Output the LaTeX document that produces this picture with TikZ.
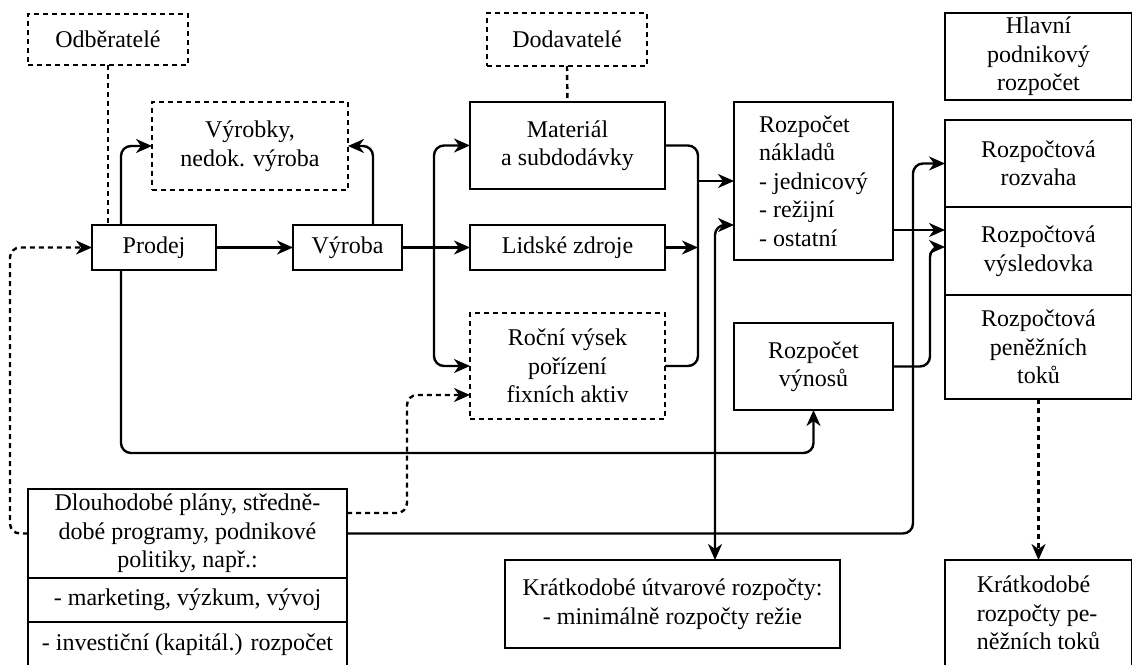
\documentclass[tikz,border=0pt]{standalone}
\usepackage{fontspec}
\setmainfont{Liberation Serif}
\usetikzlibrary{arrows.meta, positioning}

\begin{document}
\begin{tikzpicture}[
  x=1pt, y=-1pt,
  font=\fontsize{24}{28.5}\selectfont,
  box/.style={draw, line width=2.6pt, inner sep=0pt, outer sep=0pt, align=center},
  dbox/.style={box, dash pattern=on 5pt off 4pt},
  line/.style={line width=2.4pt, rounded corners=10pt},
  flow/.style={line, -{Stealth[length=16pt, width=14pt, inset=5pt]}},
  biflow/.style={line, {Stealth[length=16pt, width=14pt, inset=5pt]}-{Stealth[length=16pt, width=14pt, inset=5pt]}},
  dline/.style={line, dash pattern=on 5pt off 4pt},
  dflow/.style={flow, dash pattern=on 5pt off 4pt}
]
  \useasboundingbox (0,0) rectangle (1132,664);
  \clip (0,0) rectangle (1132,664);

  % left part
  \node[dbox, minimum width=160pt, minimum height=51pt] (odberatele) at (108,39.5) {Odběratelé};
  \node[dbox, minimum width=196pt, minimum height=88pt] (vyrobky) at (250,146) {Výrobky,\\nedok. výroba};
  \node[box, minimum width=124pt, minimum height=45pt] (prodej) at (154,247.5) {Prodej};
  \node[box, minimum width=109pt, minimum height=45pt, right=77pt of prodej] (vyroba) {Výroba};

  % middle part
  \node[dbox, minimum width=160pt, minimum height=53pt] (dodavatele) at (567,39.5) {Dodavatelé};
  \node[box, minimum width=195pt, minimum height=87pt] (material) at (567.5,145.5) {Materiál\\a subdodávky};
  \node[box, minimum width=195pt, minimum height=45pt] (lidske) at (567.5,247.5) {Lidské zdroje};
  \node[dbox, minimum width=195pt, minimum height=106pt] (rocni) at (567.5,366) {Roční výsek\\pořízení\\fixních aktiv};
  \node[box, minimum width=159pt, minimum height=158pt, align=left] (naklady) at (813.5,181) {Rozpočet\\nákladů\\- jednicový\\- režijní\\- ostatní};
  \node[box, minimum width=159pt, minimum height=87pt] (vynosy) at (813.5,366.5) {Rozpočet\\výnosů};

  % right column
  \node[box, minimum width=187pt, minimum height=87pt] (hlavni) at (1038.5,56.5) {Hlavní\\podnikový\\rozpočet};
  \node[box, minimum width=187pt, minimum height=87pt] (rozvaha) at (1038.5,163.5) {Rozpočtová\\rozvaha};
  \node[box, minimum width=187pt, minimum height=88pt, below=0pt of rozvaha] (vysledovka) {Rozpočtová\\výsledovka};
  \node[box, minimum width=187pt, minimum height=104pt, below=0pt of vysledovka] (penezni) {Rozpočtová\\peněžních\\toků};
  \node[box, minimum width=187pt, minimum height=106pt, align=left] (kratpenezni) at (1038.5,613) {Krátkodobé\\rozpočty pe-\\něžních toků};

  % bottom part
  \node[box, minimum width=335pt, minimum height=88pt] (utvarove) at (672.5,604) {Krátkodobé útvarové rozpočty:\\- minimálně rozpočty režie};
  \node[box, minimum width=319pt, minimum height=89pt] (plany) at (187.5,533.5) {Dlouhodobé plány, středně-\\dobé programy, podnikové\\politiky, např.:};
  \node[box, minimum width=319pt, minimum height=44pt, below=0pt of plany] (marketing) {- marketing, výzkum, vývoj};
  \node[box, minimum width=319pt, minimum height=46pt, below=0pt of marketing] (investice) {- investiční (kapitál.) rozpočet};

  \coordinate (split) at (434,247.5);
  \coordinate (join) at (698,181);

  % connectors
  \draw[dline] (odberatele.south) -- (odberatele.south |- prodej.north);
  \draw[dline] (dodavatele.south) -- (material.north);
  \draw[flow] ([xshift=-33pt]prodej.north) |- (vyrobky.west);
  \draw[flow] ([xshift=25.5pt]vyroba.north) |- (vyrobky.east);
  \draw[flow] (prodej.east) -- (vyroba.west);
  \draw[flow] (vyroba.east) -- (lidske.west);
  \draw[flow] (split) |- (material.west);
  \draw[flow] (split) |- (rocni.west);
  \draw[line] (material.east) -| (join) |- (rocni.east);
  \draw[flow] (join) -- (naklady.west);
  \draw[flow] (lidske.east) -- (lidske.east -| join);
  \draw[biflow] ([xshift=42.5pt]utvarove.north) |- ([yshift=-44pt]naklady.west);
  \draw[flow] ([yshift=-49pt]naklady.east) -- ([yshift=21pt]vysledovka.west);
  \draw[flow] (plany.east) -| ([xshift=-32pt]rozvaha.west) -- (rozvaha.west);
  \draw[flow] (vynosy.east) -| ([xshift=-15pt,yshift=4pt]vysledovka.west) -- ([yshift=4pt]vysledovka.west);
  \draw[flow] ([xshift=-33pt]prodej.south) -- ++(0,183) -| (vynosy.south);
  \draw[dflow] ([yshift=20.5pt]plany.east) -| ([xshift=-63pt,yshift=-29pt]rocni.west) -- ([yshift=-29pt]rocni.west);
  \draw[dflow] (plany.west) -| ([xshift=-82pt]prodej.west) -- (prodej.west);
  \draw[dflow] (penezni.south) -- (kratpenezni.north);
\end{tikzpicture}
\end{document}
